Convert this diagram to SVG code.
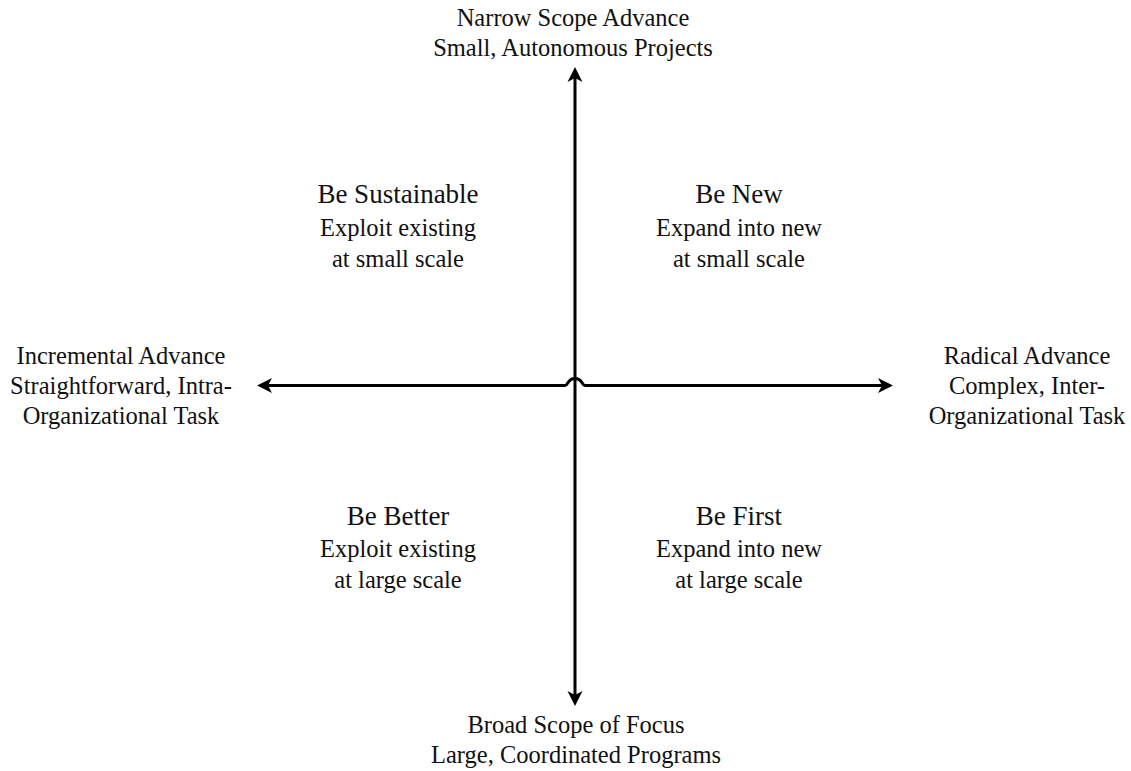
<svg xmlns="http://www.w3.org/2000/svg" width="1131" height="771" viewBox="0 0 1131 771">
  <style>
    text { font-family: "Liberation Serif", "DejaVu Serif", serif; fill: #111; text-anchor: middle; }
    .lbl { font-size: 24.5px; }
    .head { font-size: 27px; }
    .axis { fill: none; stroke: #000; stroke-width: 3; }
  </style>
  <defs>
    <marker id="tip" viewBox="0 -7.5 15 15" refX="5" refY="0" markerWidth="15" markerHeight="15" markerUnits="userSpaceOnUse" orient="auto-start-reverse" overflow="visible">
      <path d="M0,-7.5 L15,0 L0,7.5 L4,0 Z" fill="#000"/>
    </marker>
  </defs>

  <!-- axes; the horizontal one hops over the vertical one at the centre -->
  <g id="connectors">
    <path class="axis" d="M575,77 V696" marker-start="url(#tip)" marker-end="url(#tip)"/>
    <path class="axis" d="M267,385.5 H565 C568,385.5 567.5,378.5 575,378.5 C582.5,378.5 582,385.5 585,385.5 H883" marker-start="url(#tip)" marker-end="url(#tip)"/>
  </g>

  <!-- axis end labels -->
  <g id="top-label">
    <text class="lbl" x="573" y="26">Narrow Scope Advance</text>
    <text class="lbl" x="573" y="56">Small, Autonomous Projects</text>
  </g>
  <g id="bottom-label">
    <text class="lbl" x="576" y="733">Broad Scope of Focus</text>
    <text class="lbl" x="576" y="763">Large, Coordinated Programs</text>
  </g>
  <g id="left-label">
    <text class="lbl" x="121" y="364">Incremental Advance</text>
    <text class="lbl" x="121" y="394">Straightforward, Intra-</text>
    <text class="lbl" x="121" y="424">Organizational Task</text>
  </g>
  <g id="right-label">
    <text class="lbl" x="1027" y="364">Radical Advance</text>
    <text class="lbl" x="1027" y="394">Complex, Inter-</text>
    <text class="lbl" x="1027" y="424">Organizational Task</text>
  </g>

  <!-- quadrants -->
  <g id="be-sustainable">
    <text class="head" x="398" y="203">Be Sustainable</text>
    <text class="lbl" x="398" y="236">Exploit existing</text>
    <text class="lbl" x="398" y="267">at small scale</text>
  </g>
  <g id="be-new">
    <text class="head" x="739" y="203">Be New</text>
    <text class="lbl" x="739" y="236">Expand into new</text>
    <text class="lbl" x="739" y="267">at small scale</text>
  </g>
  <g id="be-better">
    <text class="head" x="398" y="525">Be Better</text>
    <text class="lbl" x="398" y="557">Exploit existing</text>
    <text class="lbl" x="398" y="588">at large scale</text>
  </g>
  <g id="be-first">
    <text class="head" x="739" y="525">Be First</text>
    <text class="lbl" x="739" y="557">Expand into new</text>
    <text class="lbl" x="739" y="588">at large scale</text>
  </g>
</svg>
